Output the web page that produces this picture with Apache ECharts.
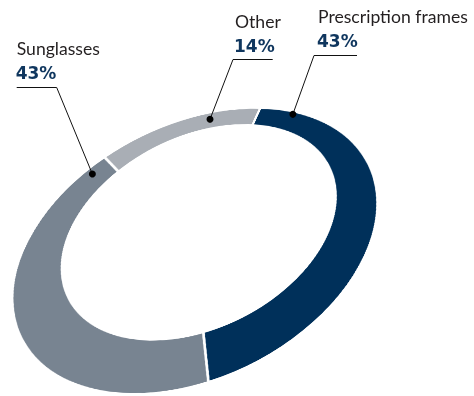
<!DOCTYPE html>
<html><head><meta charset="utf-8">
<script src="https://cdn.jsdelivr.net/npm/echarts@6/dist/echarts.min.js"></script>
<style>
html,body{margin:0;padding:0;width:474px;height:396px;overflow:hidden;background:#fff}
#ring{position:absolute;left:0;top:0;width:600px;height:600px;transform-origin:0 0}
#labels{position:absolute;left:0;top:0;width:474px;height:396px}
</style></head>
<body>
<div id="ring"></div><div id="labels"></div>
<script>
// Sales mix by product line
const categories = ['Prescription frames', 'Sunglasses', 'Other'];
const shares = [43, 43, 14];
const colors = ['#00305a', '#788491', '#a9aeb5'];

// The ring is drawn flat in a 600x600 box, then tilted into an oblique view
// with a projective (matrix3d) transform.
const BOX = 600, CTR = 300, OUTER = 280;
const HOLE_R = 0.7553;                 // hole radius, share of outer radius
const HOLE_OFF = [-0.0272, -0.1306];   // hole centre offset (towards the far side)
const VIEW = [
  [0.614220, -0.231512, 81.197196],
  [0.014136, 0.518044, 93.329214],
  [5.15499e-6, 1.48780e-5, 1]
];

// Callout layout: text origin, underline, which underline end the leader leaves from,
// and where along the slice (and across the band) the leader points.
const callouts = [
  { x: 318, y: 16,   rule: [314, 357, 55.5],  from: 0, along: 0.078, across: 0.85 },
  { x: 16.7, y: 48.4, rule: [16.7, 56.7, 87.5], from: 1, along: 0.958, across: 0.69 },
  { x: 235, y: 21.4, rule: [233, 272.7, 59.5], from: 0, along: 0.684, across: 0.55 }
];

const ringEl = document.getElementById('ring');
const V = VIEW;
ringEl.style.transform = 'matrix3d(' + [
  V[0][0], V[1][0], 0, V[2][0],
  V[0][1], V[1][1], 0, V[2][1],
  0, 0, 1, 0,
  V[0][2], V[1][2], 0, V[2][2]
].join(',') + ')';

function toPage(x, y) {
  const w = V[2][0] * x + V[2][1] * y + V[2][2];
  return [(V[0][0] * x + V[0][1] * y + V[0][2]) / w, (V[1][0] * x + V[1][1] * y + V[1][2]) / w];
}

const holeCx = CTR + HOLE_OFF[0] * OUTER, holeCy = CTR + HOLE_OFF[1] * OUTER, holeR = HOLE_R * OUTER;
const innerCut = holeR - Math.hypot(HOLE_OFF[0], HOLE_OFF[1]) * OUTER - 6;

const ring = echarts.init(ringEl);
ring.setOption({
  animation: false,
  series: [
    {
      type: 'pie',
      center: [CTR, CTR],
      radius: [innerCut, OUTER],
      startAngle: 90,
      clockwise: true,
      silent: true,
      label: { show: false },
      labelLine: { show: false },
      itemStyle: { borderColor: '#fff', borderWidth: 4 },
      color: colors,
      data: categories.map((name, i) => ({ name, value: shares[i] }))
    },
    {
      type: 'pie',
      center: [holeCx, holeCy],
      radius: [0, holeR],
      silent: true,
      label: { show: false },
      itemStyle: { color: '#fff' },
      data: [{ value: 1 }]
    }
  ]
});

// distance from the ring centre to the hole edge along direction (dx, dy)
function holeEdge(dx, dy) {
  const ox = holeCx - CTR, oy = holeCy - CTR;
  const d = dx * ox + dy * oy;
  return d + Math.sqrt(d * d - (ox * ox + oy * oy) + holeR * holeR);
}

const pieData = ring.getModel().getSeriesByIndex(0).getData();
const total = shares.reduce((a, b) => a + b, 0);
const graphics = [];
callouts.forEach((c, i) => {
  const lay = pieData.getItemLayout(i);
  const ang = lay.startAngle + (lay.endAngle - lay.startAngle) * c.along;
  const dx = Math.cos(ang), dy = Math.sin(ang);
  const rIn = holeEdge(dx, dy);
  const rr = rIn + (lay.r - rIn) * c.across;
  const dot = toPage(lay.cx + dx * rr, lay.cy + dy * rr);
  const sx = c.rule[c.from];

  graphics.push(
    { type: 'text', x: c.x, y: c.y, style: { text: categories[i], font: '17.6px Lato', fill: '#231f20', verticalAlign: 'middle', align: 'left' } },
    { type: 'text', x: c.x - 1, y: c.y + 25, style: { text: Math.round(shares[i] / total * 100) + '%', font: 'bold 17px "DejaVu Sans"', fill: '#0f365e', verticalAlign: 'middle', align: 'left' } },
    { type: 'line', shape: { x1: c.rule[0], y1: c.rule[2], x2: c.rule[1], y2: c.rule[2] }, style: { stroke: '#111', lineWidth: 1 } },
    { type: 'line', shape: { x1: sx, y1: c.rule[2], x2: dot[0], y2: dot[1] }, style: { stroke: '#111', lineWidth: 1 } },
    { type: 'circle', shape: { cx: dot[0], cy: dot[1], r: 3.5 }, style: { fill: '#000' } }
  );
});

const labels = echarts.init(document.getElementById('labels'), null, { renderer: 'svg' });
labels.setOption({ animation: false, graphic: graphics });
</script>
</body></html>
